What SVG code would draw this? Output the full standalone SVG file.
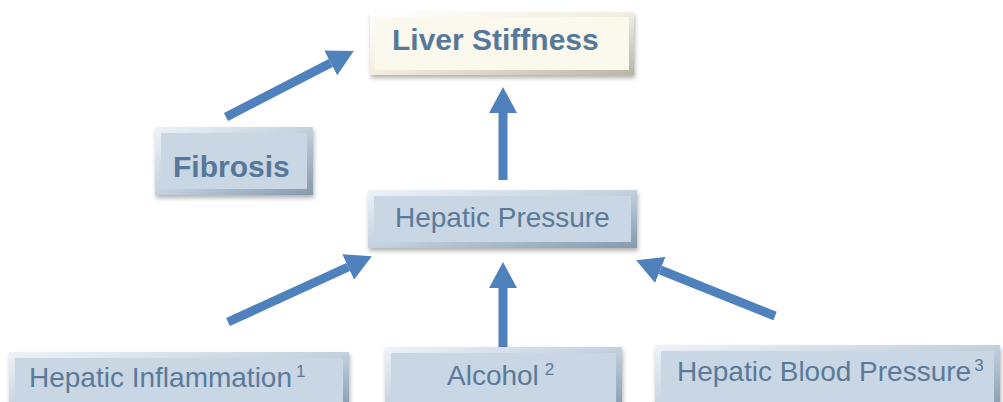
<svg xmlns="http://www.w3.org/2000/svg" width="1003" height="402" viewBox="0 0 1003 402">
<defs>
<linearGradient id="bevB" x1="0" y1="0" x2="1" y2="1">
<stop offset="0" stop-color="#eef3f8"/>
<stop offset="0.5" stop-color="#c3d1df"/>
<stop offset="1" stop-color="#8598ad"/>
</linearGradient>
<linearGradient id="bevC" x1="0" y1="0" x2="1" y2="1">
<stop offset="0" stop-color="#ffffff"/>
<stop offset="0.5" stop-color="#f2eedf"/>
<stop offset="1" stop-color="#b8b4a6"/>
</linearGradient>
<filter id="sh" x="-10%" y="-20%" width="120%" height="150%">
<feDropShadow dx="1" dy="3" stdDeviation="2" flood-color="#000" flood-opacity="0.3"/>
</filter>
<marker id="ah" markerUnits="userSpaceOnUse" markerWidth="26" markerHeight="28" refX="0" refY="14" orient="auto">
<path d="M0,0 L26,14 L0,28 z" fill="#4f81bd"/>
</marker>
</defs>
<style>
.ob{fill:url(#bevB);filter:url(#sh)}
.oc{fill:url(#bevC);filter:url(#sh)}
.ib{fill:#c9d6e3}
.ic{fill:#fbf9ee}
.tb{font-family:"Liberation Sans",Arial,sans-serif;font-weight:bold;fill:#56789a}
.tr{font-family:"Liberation Sans",Arial,sans-serif;font-size:28px;fill:#5a7a9a}
.sup{font-size:17px}
.c{stroke:#4f81bd;stroke-width:9;fill:none;marker-end:url(#ah)}
</style>
<g id="connectors">
<line class="c" x1="226" y1="117" x2="330.7" y2="63"/>
<line class="c" x1="503" y1="180" x2="503" y2="113"/>
<line class="c" x1="228" y1="322" x2="348.2" y2="267"/>
<line class="c" x1="503" y1="350" x2="503" y2="288"/>
<line class="c" x1="775" y1="316" x2="660.3" y2="270"/>
</g>
<g id="liver-stiffness">
<rect class="oc" x="370" y="12" width="264" height="63"/>
<rect class="ic" x="375" y="17" width="254" height="53"/>
<text class="tb" x="392" y="50" font-size="30">Liver Stiffness</text>
</g>
<g id="fibrosis">
<rect class="ob" x="155" y="127" width="158" height="68"/>
<rect class="ib" x="161" y="133" width="146" height="56"/>
<text class="tb" x="173" y="177" font-size="30">Fibrosis</text>
</g>
<g id="hepatic-pressure">
<rect class="ob" x="368" y="190" width="269" height="58"/>
<rect class="ib" x="374" y="196" width="257" height="46"/>
<text class="tr" x="395" y="227">Hepatic Pressure</text>
</g>
<g id="hepatic-inflammation">
<rect class="ob" x="9" y="352" width="340" height="60"/>
<rect class="ib" x="15" y="358" width="328" height="50"/>
<text class="tr" x="29" y="387" font-size="29">Hepatic Inflammation<tspan class="sup" dx="4" dy="-10">1</tspan></text>
</g>
<g id="alcohol">
<rect class="ob" x="385" y="347" width="237" height="65"/>
<rect class="ib" x="391" y="353" width="225" height="55"/>
<text class="tr" x="447" y="385">Alcohol<tspan class="sup" dx="6" dy="-10">2</tspan></text>
</g>
<g id="hepatic-blood-pressure">
<rect class="ob" x="655" y="345" width="345" height="67"/>
<rect class="ib" x="661" y="351" width="333" height="57"/>
<text class="tr" x="677" y="381" font-size="27">Hepatic Blood Pressure<tspan class="sup" dx="3" dy="-10">3</tspan></text>
</g>
</svg>
